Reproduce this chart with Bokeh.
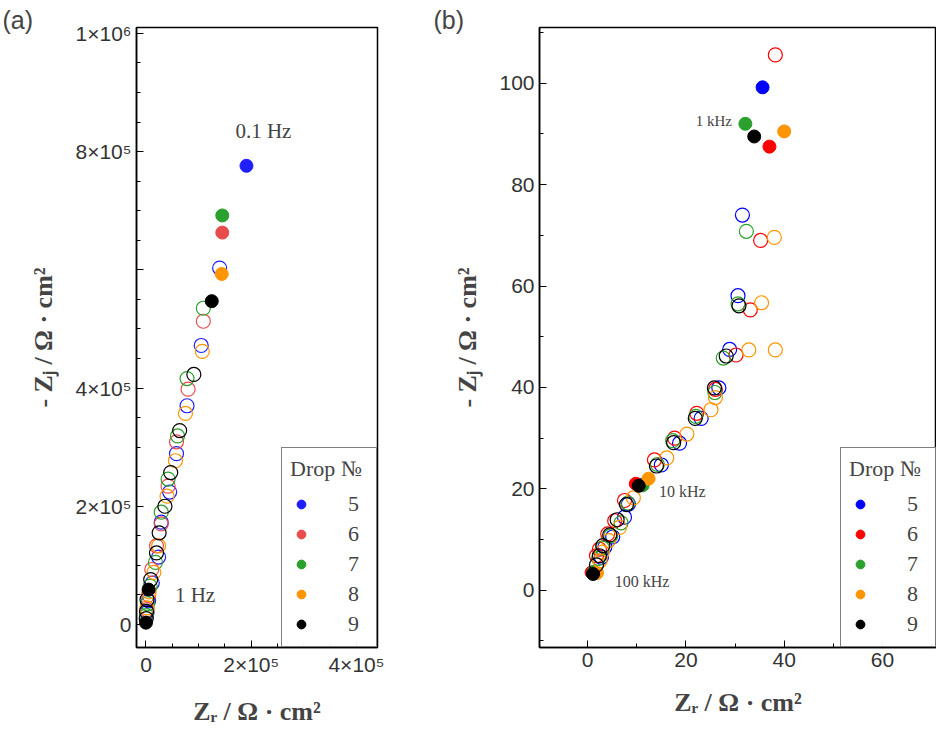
from bokeh.plotting import figure
from bokeh.layouts import row
from bokeh.models import Range1d, FixedTicker, Legend, LegendItem, Label
from bokeh.embed import file_html
from bokeh.resources import INLINE

drops = ["5", "6", "7", "8", "9"]
colors_a = ["#1f1fff", "#e84c4c", "#2ca02c", "#ff9500", "#000000"]
colors_b = ["#0000ff", "#ff0000", "#2ca02c", "#ff9500", "#000000"]

# panel (a): values in Ohm cm^2
a_open_x = [[140e3,105e3,78e3,58e3,45e3,29e3,24e3,12e3,5e3,2e3],
            [109e3,80e3,58e3,42e3,29e3,20e3,11e3,5e3,2e3],
            [109e3,78e3,60e3,42e3,29e3,18e3,8e3,3e3,1e3],
            [107e3,75e3,56e3,40e3,24e3,15e3,6e3,2e3],
            [91e3,64e3,47e3,36e3,25e3,20e3,9e3,2e3,1e3,0.5e3]]
a_open_y = [[603e3,472e3,370e3,289e3,224e3,173e3,114e3,70e3,40e3,20e3],
            [513e3,398e3,309e3,234e3,170e3,133e3,93e3,50e3,25e3],
            [535e3,416e3,319e3,246e3,190e3,105e3,65e3,35e3,15e3],
            [462e3,357e3,277e3,217e3,133e3,88e3,55e3,28e3],
            [423e3,328e3,257e3,200e3,155e3,121e3,76e3,42e3,22e3,10e3]]
a_fill_x = [[191e3],[145e3],[145e3],[144e3],[125e3,5e3,0]]
a_fill_y = [[776e3],[663e3],[692e3],[593e3],[547e3,59e3,3e3]]

# panel (b)
b_open_x = [[31.5,30.6,28.9,26.7,23.1,18.7,15.0,8.3,7.5,5.1,3.5,2.8],
            [38.2,35.2,33.1,30.2,26.0,22.2,17.7,13.6,7.5,5.5,4.1,2.4,1.8],
            [32.3,30.6,27.6,25.9,22.0,17.3,14.2,8.2,6.8,4.7,3.0,2.2],
            [38.0,35.4,32.8,26.0,25.1,20.2,16.1,9.3,6.5,4.3,3.0,2.5,38.2],
            [30.8,28.2,25.8,21.9,17.5,14.0,7.9,6.0,4.5,3.1,2.4,1.8]]
b_open_y = [[74.0,58.1,47.5,39.9,33.9,29.0,24.7,17.0,14.4,10.5,8.5,6.5],
            [105.6,69.0,55.3,46.4,39.6,34.9,30.0,25.7,17.7,13.7,11.1,8.1,6.8],
            [70.8,56.5,45.8,39.0,34.3,29.5,24.8,17.2,13.3,10.7,8.3,6.3],
            [69.6,56.7,47.4,38.0,35.6,30.8,26.1,18.2,12.4,9.8,7.5,5.8,47.4],
            [56.1,46.2,39.9,33.9,29.1,24.5,16.9,13.9,10.9,8.8,6.8,5.0]]
b_fill_x = [[35.6,11.0,1.3],[37.0,9.8,0.8],[32.1,11.2,1.2],[40.0,12.4,1.9],[33.9,10.4,1.1]]
b_fill_y = [[99.2,20.8,3.5],[87.5,21.0,3.5],[92.0,20.7,3.6],[90.5,22.0,3.4],[89.5,20.6,3.2]]

a_yticks = [0, 2e5, 4e5, 6e5, 8e5, 1e6]
a_ylabels = {0: "0", 200000: "2×10⁵", 400000: "4×10⁵", 600000: "", 800000: "8×10⁵", 1000000: "1×10⁶"}
a_xticks = [0, 2e5, 4e5]
a_xlabels = {0: "0", 200000: "2×10⁵", 400000: "4×10⁵"}

SERIF = "Liberation Serif"
SANS = "Liberation Sans"

def style(p, xlab, ylab, panel, off):
    p.grid.visible = False
    p.outline_line_color = "black"
    p.outline_line_width = 1.5
    for ax in (p.xaxis[0], p.yaxis[0]):
        ax.axis_line_color = "black"
        ax.axis_line_width = 1.5
        ax.major_tick_in = 7
        ax.major_tick_out = 0
        ax.minor_tick_in = 4
        ax.minor_tick_out = 0
        ax.major_tick_line_color = "black"
        ax.minor_tick_line_color = "black"
        ax.major_label_text_font = SANS
        ax.major_label_text_font_size = "21px"
        ax.major_label_text_color = "#333333"
        ax.axis_label_text_font = SERIF
        ax.axis_label_text_font_style = "bold"
        ax.axis_label_text_font_size = "26px"
    p.xaxis.axis_label = xlab
    p.yaxis.axis_label = ylab
    p.xaxis.axis_label_standoff = 18
    p.yaxis.axis_label_standoff = 14
    p.title.text = panel
    p.title.text_font = SANS
    p.title.text_font_style = "normal"
    p.title.text_font_size = "25px"
    p.title.align = "left"
    p.title.offset = off
    p.title.standoff = -12

def legend(p, rs):
    items = [LegendItem(label=d, renderers=[r]) for d, r in zip(drops, rs)]
    lg = Legend(items=items, title="Drop №", location="bottom_right",
                title_text_font=SERIF, title_text_font_size="22px",
                label_text_font=SERIF, label_text_font_size="22px",
                border_line_color="black", border_line_width=1,
                glyph_width=22, glyph_height=28, spacing=2, padding=8, margin=0,
                label_standoff=36, title_standoff=8)
    lg.title_text_font_style = "normal"
    p.add_layout(lg)

def lab(p, x, y, t, size, font=SERIF):
    p.add_layout(Label(x=x, y=y, text=t, text_font=font, text_font_size=size,
                       text_baseline="middle", text_align="left"))

# Panel a
pa = figure(width=390, height=739, output_backend="svg", toolbar_location=None,
            x_range=Range1d(-18000, 440000), y_range=Range1d(-39000, 1010000),
            min_border_left=136, min_border_right=13, min_border_top=27, min_border_bottom=92)
style(pa, "Zᵣ / Ω · cm²", "- Zⱼ / Ω · cm²", "(a)", -134)
pa.yaxis.ticker = FixedTicker(ticks=a_yticks, minor_ticks=[i * 50000 for i in range(21)])
pa.yaxis.major_label_overrides = a_ylabels
pa.xaxis.ticker = FixedTicker(ticks=a_xticks, minor_ticks=[i * 50000 for i in range(9)])
pa.xaxis.major_label_overrides = a_xlabels
rs = []
for i in range(5):
    pa.scatter(a_open_x[i], a_open_y[i], size=14, fill_color="white", fill_alpha=0,
               line_color=colors_a[i], line_width=1.2)
    r = pa.scatter(a_fill_x[i], a_fill_y[i], size=13, fill_color=colors_a[i], line_color=colors_a[i])
    rs.append(r)
legend(pa, rs)
lab(pa, 170000, 835000, "0.1 Hz", "21px")
lab(pa, 55000, 50000, "1 Hz", "21px")

# Panel b
pb = figure(width=546, height=739, output_backend="svg", toolbar_location=None,
            x_range=Range1d(-9.8, 71), y_range=Range1d(-11.3, 111),
            min_border_left=149, min_border_right=0, min_border_top=27, min_border_bottom=92)
style(pb, "Zᵣ / Ω · cm²", "- Zⱼ / Ω · cm²", "(b)", -106)
pb.xaxis.ticker = FixedTicker(ticks=[0, 20, 40, 60], minor_ticks=list(range(-10, 71, 10)))
pb.yaxis.ticker = FixedTicker(ticks=[0, 20, 40, 60, 80, 100], minor_ticks=list(range(-10, 111, 10)))
rs = []
for i in range(5):
    pb.scatter(b_open_x[i], b_open_y[i], size=14, fill_color="white", fill_alpha=0,
               line_color=colors_b[i], line_width=1.2)
    r = pb.scatter(b_fill_x[i], b_fill_y[i], size=13, fill_color=colors_b[i], line_color=colors_b[i])
    rs.append(r)
legend(pb, rs)
lab(pb, 22, 92.5, "1 kHz", "15px")
lab(pb, 14.5, 19.5, "10 kHz", "16px")
lab(pb, 5.5, 1.8, "100 kHz", "16px")

layout = row(pa, pb, spacing=0)
open("out.html", "w").write(file_html(layout, INLINE))
